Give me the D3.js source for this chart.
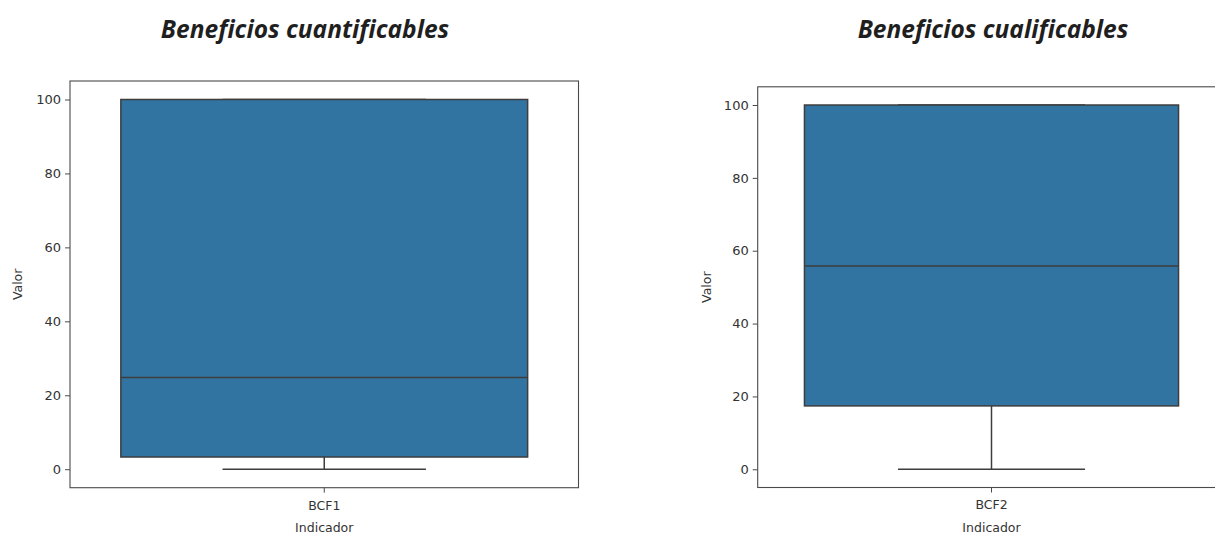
<!DOCTYPE html>
<html><head><meta charset="utf-8">
<script src="https://cdn.jsdelivr.net/npm/d3@7"></script>
<style>body{margin:0;background:#fff;}svg{display:block;}</style>
</head><body>
<svg id="c" width="1215" height="534"></svg>
<script>
const titles = ["Beneficios cuantificables", "Beneficios cualificables"];
const categories = ["BCF1", "BCF2"];
const whiskerLow = [0, 0];
const q1 = [3.3, 17.4];
const median = [24.8, 55.8];
const q3 = [100, 100];
const whiskerHigh = [100, 100];
const yTicks = [0, 20, 40, 60, 80, 100];
const xLabel = "Indicador";
const yLabel = "Valor";

const panels = [
  {x0: 70, x1: 578.5, top: 81, bottom: 487.7, titleX: 305, ylabX: 18},
  {x0: 757.7, x1: 1225.3, top: 86.8, bottom: 487.5, titleX: 993, ylabX: 707}
];

const svg = d3.select("#c");
const boxFill = "#3274a1", edge = "#3d3d3d", frame = "#4a4a4a", txt = "#333";

panels.forEach((p, i) => {
  const g = svg.append("g");
  const x = d3.scaleBand().domain([categories[i]]).range([p.x0, p.x1]).paddingInner(0).paddingOuter(0);
  const y = d3.scaleLinear().domain([-5, 105]).range([p.bottom, p.top]);

  // title
  svg.append("text").attr("x", p.titleX).attr("y", 38).attr("text-anchor", "middle")
    .attr("font-family", "'Open Sans', Lato, sans-serif").attr("font-weight", "bold")
    .attr("font-style", "italic").attr("font-size", 24.5).attr("fill", "#1f1f1f").text(titles[i]);

  // box
  const cx = x(categories[i]) + x.bandwidth() / 2;
  const bw = x.bandwidth() * 0.8;
  const capW = bw * 0.5;
  g.append("line").attr("x1", cx).attr("x2", cx).attr("y1", y(q1[i])).attr("y2", y(whiskerLow[i]))
    .attr("stroke", edge).attr("stroke-width", 1.5);
  g.append("line").attr("x1", cx).attr("x2", cx).attr("y1", y(q3[i])).attr("y2", y(whiskerHigh[i]))
    .attr("stroke", edge).attr("stroke-width", 1.5);
  g.append("line").attr("x1", cx - capW / 2).attr("x2", cx + capW / 2)
    .attr("y1", y(whiskerLow[i])).attr("y2", y(whiskerLow[i])).attr("stroke", edge).attr("stroke-width", 1.5);
  g.append("line").attr("x1", cx - capW / 2).attr("x2", cx + capW / 2)
    .attr("y1", y(whiskerHigh[i])).attr("y2", y(whiskerHigh[i])).attr("stroke", edge).attr("stroke-width", 1.5);
  g.append("rect").attr("x", cx - bw / 2).attr("width", bw)
    .attr("y", y(q3[i])).attr("height", y(q1[i]) - y(q3[i]))
    .attr("fill", boxFill).attr("stroke", edge).attr("stroke-width", 1.5);
  g.append("line").attr("x1", cx - bw / 2).attr("x2", cx + bw / 2)
    .attr("y1", y(median[i])).attr("y2", y(median[i])).attr("stroke", edge).attr("stroke-width", 1.5);

  // frame
  g.append("rect").attr("x", p.x0).attr("y", p.top).attr("width", p.x1 - p.x0).attr("height", p.bottom - p.top)
    .attr("fill", "none").attr("stroke", frame).attr("stroke-width", 1.1);

  // y axis
  const ya = g.append("g").attr("transform", `translate(${p.x0},0)`)
    .call(d3.axisLeft(y).tickValues(yTicks).tickSize(5).tickPadding(4));
  ya.select(".domain").remove();
  ya.selectAll("line").attr("stroke", frame);
  ya.selectAll("text").attr("font-family", "'DejaVu Sans', sans-serif").attr("font-size", 13).attr("fill", txt);

  // x axis
  const xa = g.append("g").attr("transform", `translate(0,${p.bottom})`)
    .call(d3.axisBottom(x).tickSize(5).tickPadding(8));
  xa.select(".domain").remove();
  xa.selectAll("line").attr("stroke", frame);
  xa.selectAll("text").attr("font-family", "'DejaVu Sans', sans-serif").attr("font-size", 12.5).attr("fill", txt);

  // axis labels
  g.append("text").attr("x", cx).attr("y", 532).attr("text-anchor", "middle")
    .attr("font-family", "'DejaVu Sans', sans-serif").attr("font-size", 12.5).attr("fill", txt).text(xLabel);
  const ymid = (p.top + p.bottom) / 2;
  g.append("text").attr("transform", `translate(${p.ylabX + 4},${ymid}) rotate(-90)`)
    .attr("text-anchor", "middle")
    .attr("font-family", "'DejaVu Sans', sans-serif").attr("font-size", 12.5).attr("fill", txt).text(yLabel);
});
</script>
</body></html>
